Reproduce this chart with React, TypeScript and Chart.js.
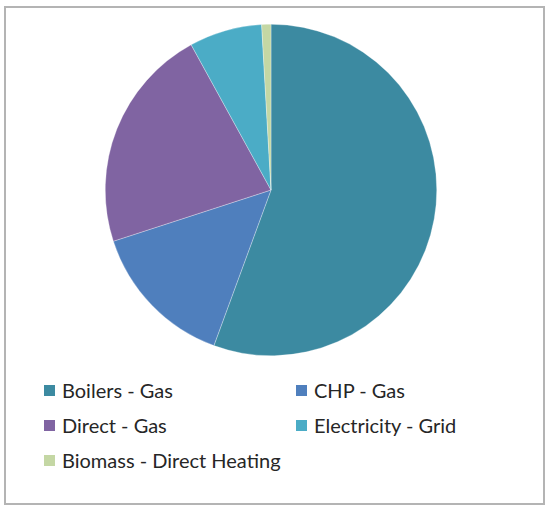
import React, { useEffect, useRef } from "react";
import { Chart, registerables } from "chart.js";

Chart.register(...registerables);

const categories = [
  "Boilers - Gas",
  "CHP - Gas",
  "Direct - Gas",
  "Electricity - Grid",
  "Biomass - Direct Heating",
];
const values = [55.6, 14.4, 22.0, 7.1, 0.9];
const colors = ["#3C8AA1", "#4F7FBD", "#8064A2", "#4BACC6", "#C4D7A4"];

export default function App() {
  const ref = useRef<HTMLCanvasElement | null>(null);

  useEffect(() => {
    document.body.style.margin = "0";
    if (!ref.current) return;
    const chart = new Chart(ref.current, {
      type: "pie",
      data: {
        labels: categories,
        datasets: [
          {
            data: values,
            backgroundColor: colors,
            borderWidth: 0.5,
            borderColor: "rgba(255,255,255,0.6)",
          },
        ],
      },
      options: {
        animation: false,
        responsive: false,
        maintainAspectRatio: false,
        layout: { padding: 0 },
        plugins: {
          legend: { display: false },
          tooltip: { enabled: false },
        },
      },
    });
    return () => chart.destroy();
  }, []);

  const legendItem = (i: number, left: number, top: number) => (
    <div
      key={i}
      style={{
        position: "absolute",
        left,
        top,
        display: "flex",
        alignItems: "center",
        height: 24,
        whiteSpace: "nowrap",
      }}
    >
      <span
        style={{
          display: "inline-block",
          width: 11,
          height: 11,
          background: colors[i],
          marginRight: 7,
        }}
      />
      <span
        style={{
          fontFamily: "Lato, 'Open Sans', sans-serif",
          fontSize: 20,
          color: "#262626",
        }}
      >
        {categories[i]}
      </span>
    </div>
  );

  return (
    <div
      style={{
        position: "fixed",
        left: 0,
        top: 0,
        width: 550,
        height: 512,
        background: "#fff",
      }}
    >
      <div
        style={{
          position: "absolute",
          left: 4,
          top: 6,
          width: 537,
          height: 495,
          border: "2px solid #B4B4B4",
        }}
      />
      <canvas
        ref={ref}
        width={332}
        height={332}
        style={{ position: "absolute", left: 105, top: 24, width: 332, height: 332 }}
      />
      {legendItem(0, 44, 378)}
      {legendItem(1, 296, 378)}
      {legendItem(2, 44, 413)}
      {legendItem(3, 296, 413)}
      {legendItem(4, 44, 448)}
    </div>
  );
}
